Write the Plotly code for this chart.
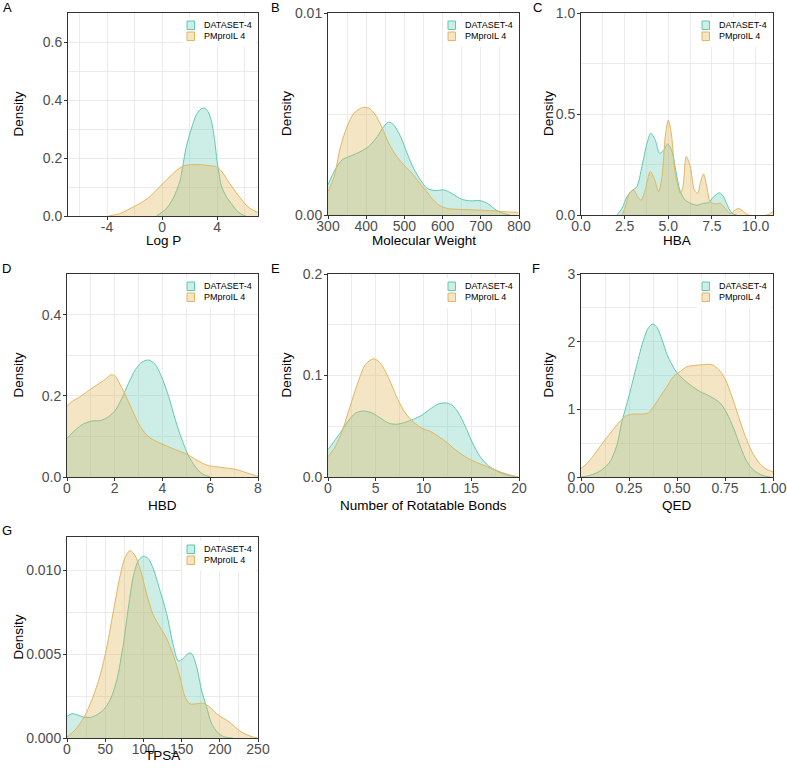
import plotly.graph_objects as go

# ---------------- data ----------------
A_teal_x = [-0.4, 0.3, 0.8, 1.3, 1.5, 1.77, 2.13, 2.5, 2.86, 3.1, 3.35, 3.6, 3.83, 4.0, 4.15, 4.3, 4.68, 5.04, 5.4, 5.77, 6.1]
A_teal_y = [0.0, 0.025, 0.06, 0.12, 0.17, 0.24, 0.30, 0.35, 0.37, 0.372, 0.36, 0.325, 0.26, 0.19, 0.146, 0.106, 0.066, 0.043, 0.02, 0.006, 0.0]
A_orng_x = [-3.9, -3.08, -2.35, -1.62, -0.9, -0.3, 0.3, 0.92, 1.53, 2.13, 2.74, 3.35, 3.95, 4.3, 4.92, 5.53, 6.13, 6.62, 6.98]
A_orng_y = [0.0, 0.008, 0.025, 0.043, 0.066, 0.095, 0.123, 0.152, 0.172, 0.177, 0.177, 0.174, 0.17, 0.156, 0.112, 0.072, 0.037, 0.02, 0.012]

B_teal_x = [300, 320, 337, 355, 381, 407, 429, 446, 459, 472, 490, 507, 524, 542, 559, 581, 603, 624, 650, 672, 698, 720, 737, 759, 777]
B_teal_y = [0.00149, 0.0023, 0.00273, 0.00289, 0.0031, 0.0034, 0.00388, 0.00438, 0.0046, 0.00446, 0.00388, 0.00306, 0.00231, 0.00174, 0.00132, 0.00121, 0.00124, 0.00107, 0.00078, 0.0007, 0.00071, 0.00055, 0.00028, 0.00008, 0.0]
B_orng_x = [300, 316, 333, 350, 368, 390, 407, 424, 442, 459, 477, 498, 520, 537, 555, 572, 590, 611, 642, 685, 737, 772, 798]
B_orng_y = [0.00116, 0.0019, 0.0034, 0.00438, 0.00504, 0.00532, 0.00529, 0.00496, 0.0043, 0.00355, 0.00298, 0.00248, 0.00207, 0.00165, 0.00124, 0.00083, 0.0005, 0.00033, 0.00028, 0.00025, 0.0002, 0.00015, 0.00013]

C_teal_x = [2.06, 2.35, 2.63, 2.92, 3.2, 3.49, 3.78, 4.0, 4.26, 4.5, 4.73, 4.96, 5.2, 5.46, 5.69, 5.97, 6.35, 6.64, 7.02, 7.3, 7.6, 7.94, 8.17, 8.4, 8.65, 8.93]
C_teal_y = [0.0, 0.033, 0.09, 0.12, 0.14, 0.24, 0.355, 0.405, 0.37, 0.306, 0.32, 0.352, 0.32, 0.207, 0.116, 0.074, 0.055, 0.048, 0.058, 0.061, 0.09, 0.11, 0.09, 0.045, 0.008, 0.0]
C_orng_x = [2.35, 2.54, 2.79, 3.02, 3.24, 3.44, 3.68, 3.97, 4.22, 4.45, 4.64, 4.83, 5.0, 5.17, 5.4, 5.69, 5.84, 6.03, 6.26, 6.49, 6.68, 6.83, 7.02, 7.21, 7.4, 7.69, 7.98, 8.26, 8.55, 8.84, 9.03, 9.31, 9.6, 10.65, 11.0]
C_orng_y = [0.0, 0.04, 0.11, 0.124, 0.09, 0.074, 0.124, 0.215, 0.174, 0.116, 0.19, 0.39, 0.47, 0.405, 0.207, 0.107, 0.14, 0.29, 0.24, 0.124, 0.107, 0.157, 0.203, 0.14, 0.066, 0.055, 0.058, 0.033, 0.008, 0.025, 0.033, 0.017, 0.0, 0.0, 0.017]

D_teal_x = [0, 0.35, 0.7, 1.05, 1.4, 1.75, 2.03, 2.3, 2.58, 2.86, 3.14, 3.42, 3.7, 3.98, 4.26, 4.54, 4.82, 5.1, 5.38, 5.66, 6.0]
D_teal_y = [0.095, 0.116, 0.131, 0.138, 0.139, 0.149, 0.165, 0.194, 0.231, 0.264, 0.283, 0.288, 0.277, 0.244, 0.198, 0.14, 0.091, 0.051, 0.025, 0.008, 0.0]
D_orng_x = [0, 0.21, 0.56, 0.91, 1.26, 1.61, 1.86, 2.03, 2.23, 2.51, 2.79, 3.07, 3.42, 3.77, 4.19, 4.6, 5.03, 5.45, 5.87, 6.28, 6.7, 7.12, 7.54, 8.0]
D_orng_y = [0.174, 0.186, 0.198, 0.213, 0.227, 0.241, 0.252, 0.248, 0.227, 0.194, 0.157, 0.124, 0.099, 0.087, 0.076, 0.066, 0.056, 0.041, 0.029, 0.025, 0.022, 0.018, 0.01, 0.002]

E_teal_x = [0, 0.63, 1.32, 2.02, 2.89, 3.76, 4.63, 5.5, 6.37, 7.23, 8.1, 8.97, 9.84, 10.7, 11.58, 12.28, 12.97, 13.67, 14.37, 15.06, 15.93, 16.8, 17.67, 18.7, 19.93]
E_teal_y = [0.027, 0.035, 0.044, 0.054, 0.063, 0.065, 0.063, 0.058, 0.053, 0.052, 0.054, 0.057, 0.061, 0.067, 0.072, 0.073, 0.071, 0.063, 0.05, 0.035, 0.02, 0.011, 0.006, 0.002, 0.0]
E_orng_x = [0, 0.63, 1.32, 2.19, 3.06, 3.93, 4.8, 5.5, 6.37, 7.23, 8.1, 8.97, 9.84, 10.7, 11.58, 12.45, 13.32, 14.37, 15.4, 16.45, 17.5, 18.7, 19.93]
E_orng_y = [0.02, 0.028, 0.041, 0.066, 0.091, 0.111, 0.1165, 0.112, 0.097, 0.078, 0.063, 0.054, 0.048, 0.045, 0.04, 0.034, 0.027, 0.02, 0.015, 0.011, 0.007, 0.003, 0.0]

F_teal_x = [0, 0.049, 0.1, 0.15, 0.19, 0.21, 0.25, 0.29, 0.326, 0.352, 0.375, 0.396, 0.422, 0.448, 0.474, 0.5, 0.535, 0.569, 0.622, 0.674, 0.726, 0.76, 0.795, 0.83, 0.865, 0.9, 0.943, 0.986]
F_teal_y = [0.0, 0.025, 0.09, 0.22, 0.5, 0.78, 1.2, 1.65, 2.03, 2.21, 2.26, 2.21, 2.03, 1.81, 1.66, 1.54, 1.44, 1.36, 1.26, 1.19, 1.09, 0.94, 0.72, 0.45, 0.22, 0.1, 0.025, 0.0]
F_orng_x = [0, 0.031, 0.066, 0.1, 0.135, 0.17, 0.205, 0.24, 0.274, 0.318, 0.352, 0.378, 0.413, 0.448, 0.483, 0.517, 0.552, 0.595, 0.639, 0.682, 0.717, 0.752, 0.786, 0.821, 0.856, 0.891, 0.925, 0.96, 1.0]
F_orng_y = [0.124, 0.2, 0.32, 0.45, 0.585, 0.71, 0.83, 0.91, 0.93, 0.93, 0.95, 1.04, 1.19, 1.34, 1.49, 1.56, 1.63, 1.65, 1.66, 1.66, 1.59, 1.44, 1.19, 0.89, 0.6, 0.37, 0.22, 0.124, 0.074]

G_teal_x = [0, 6.5, 13, 21.7, 30.4, 39, 47.8, 56.5, 65.2, 73.9, 80.4, 87, 93.5, 100, 106.5, 113, 121.7, 130.4, 139.1, 145.7, 152.2, 158.7, 163, 169.6, 176, 182.6, 189, 197.8, 206.5, 217]
G_teal_y = [0.00129, 0.00145, 0.00139, 0.00125, 0.00123, 0.00139, 0.00168, 0.00228, 0.00347, 0.00564, 0.00782, 0.0097, 0.0106, 0.01085, 0.0107, 0.0101, 0.0088, 0.00743, 0.00554, 0.0046, 0.00475, 0.00505, 0.00505, 0.00426, 0.00287, 0.00188, 0.00089, 0.0003, 0.00006, 0.0]
G_orng_x = [0, 10.9, 21.7, 32.6, 43.5, 52.2, 60.9, 69.6, 76.1, 82.6, 89.1, 95.7, 104.3, 113, 121.7, 130.4, 139.1, 147.8, 154.3, 160.9, 169.6, 178.3, 187, 195.7, 204.3, 213, 221.7, 230.4, 243.5, 249]
G_orng_y = [0.00006, 0.0005, 0.00119, 0.00228, 0.00376, 0.00545, 0.00762, 0.0097, 0.01079, 0.01119, 0.01089, 0.0101, 0.0086, 0.00733, 0.00663, 0.00594, 0.00495, 0.00366, 0.00248, 0.00204, 0.00204, 0.00208, 0.00184, 0.00145, 0.00119, 0.00093, 0.00059, 0.0003, 0.00006, 0.0]

series_names = ["DATASET-4", "PMproIL 4"]
panel_letters = ["A", "B", "C", "D", "E", "F", "G"]
x_titles = ["Log P", "Molecular Weight", "HBA", "HBD", "Number of Rotatable Bonds", "QED", "TPSA"]

A_xticks = [-4, 0, 4];  A_xlabels = ["-4", "0", "4"];  A_xminor = [-6, -2, 2, 6]
A_yticks = [0, 0.2, 0.4, 0.6];  A_ylabels = ["0.0", "0.2", "0.4", "0.6"];  A_yminor = [0.1, 0.3, 0.5]
B_xticks = [300, 400, 500, 600, 700, 800];  B_xlabels = ["300", "400", "500", "600", "700", "800"];  B_xminor = [350, 450, 550, 650, 750]
B_yticks = [0, 0.01];  B_ylabels = ["0.00", "0.01"];  B_yminor = [0.005]
C_xticks = [0, 2.5, 5, 7.5, 10];  C_xlabels = ["0.0", "2.5", "5.0", "7.5", "10.0"];  C_xminor = [1.25, 3.75, 6.25, 8.75]
C_yticks = [0, 0.5, 1.0];  C_ylabels = ["0.0", "0.5", "1.0"];  C_yminor = [0.25, 0.75]
D_xticks = [0, 2, 4, 6, 8];  D_xlabels = ["0", "2", "4", "6", "8"];  D_xminor = [1, 3, 5, 7]
D_yticks = [0, 0.2, 0.4];  D_ylabels = ["0.0", "0.2", "0.4"];  D_yminor = [0.1, 0.3]
E_xticks = [0, 5, 10, 15, 20];  E_xlabels = ["0", "5", "10", "15", "20"];  E_xminor = [2.5, 7.5, 12.5, 17.5]
E_yticks = [0, 0.1, 0.2];  E_ylabels = ["0.0", "0.1", "0.2"];  E_yminor = [0.05, 0.15]
F_xticks = [0, 0.25, 0.5, 0.75, 1.0];  F_xlabels = ["0.00", "0.25", "0.50", "0.75", "1.00"];  F_xminor = [0.125, 0.375, 0.625, 0.875]
F_yticks = [0, 1, 2, 3];  F_ylabels = ["0", "1", "2", "3"];  F_yminor = [0.5, 1.5, 2.5]
G_xticks = [0, 50, 100, 150, 200, 250];  G_xlabels = ["0", "50", "100", "150", "200", "250"];  G_xminor = [25, 75, 125, 175, 225]
G_yticks = [0, 0.005, 0.010];  G_ylabels = ["0.000", "0.005", "0.010"];  G_yminor = [0.0025, 0.0075]

# ---------------- layout / style ----------------
W, H = 787, 771
FONT = "Liberation Sans, Arial, sans-serif"
TEAL_LINE = "#5fc9b2"
ORNG_LINE = "#e3b660"
TEAL_FILL = "rgba(112,206,184,0.35)"
ORNG_FILL = "rgba(224,180,90,0.35)"
GRID = "#ebebeb"

# panel pixel boxes: (left, right, top, bottom)
boxes = [
    (68, 258, 13, 216), (328, 519, 13, 215), (581, 773, 13, 215),
    (67, 258, 274, 477), (328, 519, 274, 477), (581, 773, 274, 477),
    (67, 258, 537, 738),
]
xranges = [[-6.84, 6.98], [300, 800], [0, 11], [0, 8], [0, 20], [0, 1], [0, 250]]
yranges = [[0, 0.7], [0, 0.01], [0, 1.0], [0, 0.5], [0, 0.2], [0, 3], [0, 0.012]]

panels = [
    (A_teal_x, A_teal_y, A_orng_x, A_orng_y, A_xticks, A_xlabels, A_xminor, A_yticks, A_ylabels, A_yminor),
    (B_teal_x, B_teal_y, B_orng_x, B_orng_y, B_xticks, B_xlabels, B_xminor, B_yticks, B_ylabels, B_yminor),
    (C_teal_x, C_teal_y, C_orng_x, C_orng_y, C_xticks, C_xlabels, C_xminor, C_yticks, C_ylabels, C_yminor),
    (D_teal_x, D_teal_y, D_orng_x, D_orng_y, D_xticks, D_xlabels, D_xminor, D_yticks, D_ylabels, D_yminor),
    (E_teal_x, E_teal_y, E_orng_x, E_orng_y, E_xticks, E_xlabels, E_xminor, E_yticks, E_ylabels, E_yminor),
    (F_teal_x, F_teal_y, F_orng_x, F_orng_y, F_xticks, F_xlabels, F_xminor, F_yticks, F_ylabels, F_yminor),
    (G_teal_x, G_teal_y, G_orng_x, G_orng_y, G_xticks, G_xlabels, G_xminor, G_yticks, G_ylabels, G_yminor),
]

letter_pos = [(7, 7.5), (275, 7.5), (537, 7.5), (6, 268), (275, 268), (536, 268), (6.5, 530)]
ytitle_x = [18, 286, 548, 18, 286, 548, 18]
xtitle_y = [240, 240, 240, 505, 505, 505, 755]

fig = go.Figure()
layout = dict(
    width=W, height=H, margin=dict(l=0, r=0, t=0, b=0, pad=0, autoexpand=False),
    paper_bgcolor="white", plot_bgcolor="white", showlegend=False,
    font=dict(family=FONT, color="#000000"),
)
shapes, annotations = [], []

def px(x):
    return x / W

def py(y):
    return 1 - y / H

for i, (tx, ty, ox, oy, xt, xl, xm, yt, yl, ym) in enumerate(panels):
    n = "" if i == 0 else str(i + 1)
    xa, ya = "x" + n, "y" + n
    l, r, t, b = boxes[i]
    fig.add_trace(go.Scatter(x=tx, y=ty, mode="lines", fill="tozeroy", fillcolor=TEAL_FILL,
                             line=dict(color=TEAL_LINE, width=1, shape="spline", smoothing=0.8),
                             name=series_names[0], xaxis=xa, yaxis=ya, hoverinfo="skip"))
    fig.add_trace(go.Scatter(x=ox, y=oy, mode="lines", fill="tozeroy", fillcolor=ORNG_FILL,
                             line=dict(color=ORNG_LINE, width=1, shape="spline", smoothing=0.8),
                             name=series_names[1], xaxis=xa, yaxis=ya, hoverinfo="skip"))
    common = dict(showline=True, mirror=True, linecolor="#333333", linewidth=1,
                  ticks="outside", ticklen=3, tickcolor="#333333", tickwidth=1,
                  showgrid=True, gridcolor=GRID, gridwidth=1, zeroline=False, automargin=False,
                  tickfont=dict(family=FONT, size=14, color="#4d4d4d"), fixedrange=True)
    layout["xaxis" + n] = dict(common, domain=[px(l), px(r)], anchor=ya, range=xranges[i],
                               tickmode="array", tickvals=xt, ticktext=xl, ticklabelstandoff=-5,
                               minor=dict(tickvals=xm, showgrid=True, gridcolor=GRID, gridwidth=0.5, ticks=""))
    layout["yaxis" + n] = dict(common, domain=[py(b), py(t)], anchor=xa, range=yranges[i],
                               tickmode="array", tickvals=yt, ticktext=yl, ticklabelstandoff=-1,
                               minor=dict(tickvals=ym, showgrid=True, gridcolor=GRID, gridwidth=0.5, ticks=""))

    pw, ph = r - l, b - t
    xd, yd = xa + " domain", ya + " domain"
    fx = lambda off: 1 - off / pw
    fy = lambda off: 1 - off / ph
    # legend background
    shapes.append(dict(type="rect", xref=xd, yref=yd, x0=fx(76), x1=fx(2), y0=fy(34), y1=fy(4),
                       fillcolor="white", line=dict(width=0), layer="above"))
    # legend keys
    shapes.append(dict(type="rect", xref=xd, yref=yd, x0=fx(71), x1=fx(63.5), y0=fy(16.5), y1=fy(8),
                       fillcolor=TEAL_FILL, line=dict(color=TEAL_LINE, width=1), layer="above"))
    shapes.append(dict(type="rect", xref=xd, yref=yd, x0=fx(71), x1=fx(63.5), y0=fy(27.5), y1=fy(19),
                       fillcolor=ORNG_FILL, line=dict(color=ORNG_LINE, width=1), layer="above"))
    for k, yy in enumerate([12.3, 23.3]):
        annotations.append(dict(text=series_names[k], xref=xd, yref=yd, x=fx(56), y=fy(yy),
                                xanchor="left", yanchor="middle", showarrow=False,
                                font=dict(family=FONT, size=9, color="#000000")))
    # panel letter
    lx, ly = letter_pos[i]
    annotations.append(dict(text=panel_letters[i], xref="paper", yref="paper", x=px(lx), y=py(ly),
                            xanchor="center", yanchor="middle", showarrow=False,
                            font=dict(family=FONT, size=13, color="#000000")))
    # axis titles
    annotations.append(dict(text="Density", xref="paper", yref="paper", x=px(ytitle_x[i]),
                            y=py((t + b) / 2), xanchor="center", yanchor="middle", textangle=-90,
                            showarrow=False, font=dict(family=FONT, size=13.5, color="#000000")))
    annotations.append(dict(text=x_titles[i], xref="paper", yref="paper", x=px((l + r) / 2),
                            y=py(xtitle_y[i]), xanchor="center", yanchor="middle",
                            showarrow=False, font=dict(family=FONT, size=13.5, color="#000000")))

layout["shapes"] = shapes
layout["annotations"] = annotations
fig.update_layout(**layout)
# remove the browser's default 8px body margin so the 787x771 figure fills the window exactly
fig.write_html("out.html", config={"displayModeBar": False},
               post_script="document.body.style.margin='0px';")
